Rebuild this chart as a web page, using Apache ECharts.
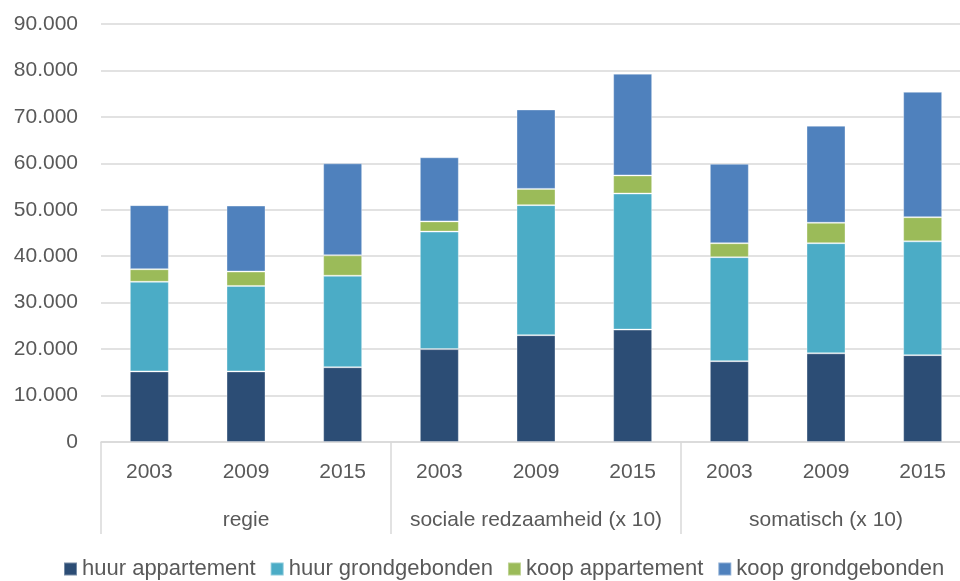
<!DOCTYPE html>
<html>
<head>
<meta charset="utf-8">
<script src="https://cdn.jsdelivr.net/npm/echarts@6/dist/echarts.min.js"></script>
<style>
  html, body { margin: 0; padding: 0; background: #fff; }
  #chart { width: 960px; height: 581px; }
</style>
</head>
<body>
<div id="chart"></div>
<script>
  // data
  var years = ['2003', '2009', '2015', '2003', '2009', '2015', '2003', '2009', '2015']
  var groups = ['regie', 'sociale redzaamheid (x 10)', 'somatisch (x 10)']
  var huurAppartement = [15200, 15200, 16100, 20000, 23000, 24200, 17400, 19100, 18700]
  var huurGrondgebonden = [19300, 18400, 19700, 25300, 28000, 29300, 22400, 23700, 24500]
  var koopAppartement = [2700, 3100, 4400, 2200, 3500, 3900, 3000, 4400, 5200]
  var koopGrondgebonden = [13800, 14200, 19800, 13800, 17100, 21900, 17100, 20900, 27000]

  var font = '"Liberation Sans Narrow", "Liberation Sans", sans-serif'
  var textColor = '#595959'

  var chart = echarts.init(document.getElementById('chart'))

  function bar(name, data, color) {
    return {
      name: name,
      type: 'bar',
      stack: 'total',
      barWidth: 39,
      xAxisIndex: 0,
      data: data,
      itemStyle: {
        color: color,
        borderColor: 'rgba(255,255,255,0.35)',
        borderWidth: 1
      }
    }
  }

  chart.setOption({
    animation: false,
    textStyle: { fontFamily: font },
    grid: {
      left: 101,
      width: 870,
      top: 24,
      bottom: 139,
      containLabel: false,
      outerBoundsMode: 'none'
    },
    legend: {
      top: 553,
      left: 58,
      itemWidth: 13,
      itemHeight: 13,
      itemGap: 14,
      icon: 'rect',
      textStyle: { color: textColor, fontSize: 22, fontFamily: font },
      data: ['huur appartement', 'huur grondgebonden', 'koop appartement', 'koop grondgebonden']
    },
    xAxis: [
      {
        type: 'category',
        data: years,
        position: 'bottom',
        axisLine: { show: true, lineStyle: { color: '#d9d9d9', width: 1.5 } },
        axisTick: { show: false },
        axisLabel: { color: textColor, fontSize: 21, margin: 20, fontFamily: font }
      },
      {
        type: 'category',
        data: groups,
        position: 'bottom',
        axisLine: { show: false },
        axisTick: { show: true, length: 92, interval: 0, lineStyle: { color: '#d9d9d9', width: 1.5 } },
        axisLabel: { color: textColor, fontSize: 21, margin: 68, fontFamily: font, interval: 0 }
      }
    ],
    yAxis: {
      type: 'value',
      min: 0,
      max: 90000,
      interval: 10000,
      axisLine: { show: false },
      axisTick: { show: false },
      splitLine: { lineStyle: { color: '#d9d9d9', width: 1.5 } },
      axisLabel: {
        color: textColor,
        fontSize: 21,
        margin: 23,
        fontFamily: font,
        formatter: function (v) {
          return v === 0 ? '0' : String(v).replace(/\B(?=(\d{3})+(?!\d))/g, '.')
        }
      }
    },
    series: [
      bar('huur appartement', huurAppartement, '#2C4D75'),
      bar('huur grondgebonden', huurGrondgebonden, '#4BACC6'),
      bar('koop appartement', koopAppartement, '#9BBB59'),
      bar('koop grondgebonden', koopGrondgebonden, '#4F81BD')
    ]
  })
</script>
</body>
</html>
